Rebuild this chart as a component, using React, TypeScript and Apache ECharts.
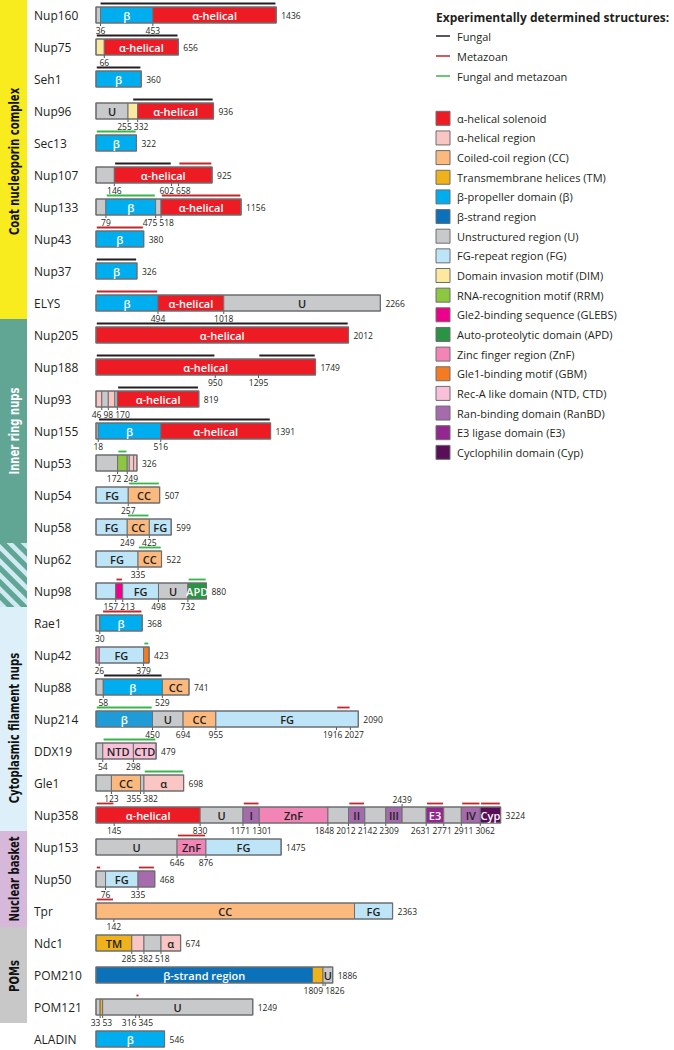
import React, { useEffect, useRef } from 'react';
import * as echarts from 'echarts';

// ---------------- DATA ----------------
const NAMES = ['Nup160','Nup75','Seh1','Nup96','Sec13','Nup107','Nup133','Nup43','Nup37','ELYS','Nup205','Nup188','Nup93','Nup155','Nup53','Nup54','Nup58','Nup62','Nup98','Rae1','Nup42','Nup88','Nup214','DDX19','Gle1','Nup358','Nup153','Nup50','Tpr','Ndc1','POM210','POM121','ALADIN'];
const LENGTHS = [1436,656,360,936,322,925,1156,380,326,2266,2012,1749,819,1391,326,507,599,522,880,368,423,741,2090,479,698,3224,1475,468,2363,674,1886,1249,546];

// [start, end, domain type, label]
const DOMAINS: [number, number, string, string?][][] = [
  [[0,36,'U'],[36,453,'BP','β'],[453,1436,'AS','α-helical']],
  [[0,66,'DIM'],[66,656,'AS','α-helical']],
  [[0,360,'BP','β']],
  [[0,255,'U','U'],[255,332,'DIM'],[332,936,'AS','α-helical']],
  [[0,322,'BP','β']],
  [[0,146,'U'],[146,925,'AS','α-helical']],
  [[0,79,'U'],[79,475,'BP','β'],[475,518,'U'],[518,1156,'AS','α-helical']],
  [[0,380,'BP','β']],
  [[0,326,'BP','β']],
  [[0,494,'BP','β'],[494,1018,'AS','α-helical'],[1018,2266,'U','U']],
  [[0,2012,'AS','α-helical']],
  [[0,1749,'AS','α-helical']],
  [[0,46,'AR'],[46,98,'U'],[98,150,'AR'],[150,170,'U'],[170,819,'AS','α-helical']],
  [[0,18,'U'],[18,516,'BP','β'],[516,1391,'AS','α-helical']],
  [[0,172,'U'],[172,249,'RRM'],[249,265,'U'],[265,300,'AR'],[300,326,'AR']],
  [[0,257,'FG','FG'],[257,507,'CC','CC']],
  [[0,249,'FG','FG'],[249,425,'CC','CC'],[425,599,'FG','FG']],
  [[0,335,'FG','FG'],[335,522,'CC','CC']],
  [[0,157,'FG'],[157,213,'GLEBS'],[213,498,'FG','FG'],[498,732,'U','U'],[732,880,'APD','APD']],
  [[0,30,'U'],[30,368,'BP','β']],
  [[0,26,'ZNF'],[26,379,'FG','FG'],[379,423,'GBM']],
  [[0,58,'U'],[58,529,'BP','β'],[529,741,'CC','CC']],
  [[0,450,'BP2','β'],[450,694,'U','U'],[694,955,'CC','CC'],[955,2090,'FG','FG']],
  [[0,54,'U'],[54,298,'RECA','NTD'],[298,479,'RECA','CTD']],
  [[0,123,'U'],[123,355,'CC','CC'],[355,382,'U'],[382,698,'AR','α']],
  [[0,830,'AS','α-helical'],[830,1171,'U','U'],[1171,1301,'RANBD','I'],[1301,1848,'ZNF','ZnF'],[1848,2012,'U'],[2012,2142,'RANBD','II'],[2142,2309,'U'],[2309,2439,'RANBD','III'],[2439,2631,'U'],[2631,2771,'E3','E3'],[2771,2911,'U'],[2911,3062,'RANBD','IV'],[3062,3224,'CYP','Cyp']],
  [[0,646,'U','U'],[646,876,'ZNF','ZnF'],[876,1475,'FG','FG']],
  [[0,76,'U'],[76,335,'FG','FG'],[335,468,'RANBD']],
  [[0,2060,'CC','CC'],[2060,2363,'FG','FG']],
  [[0,285,'TM','TM'],[285,382,'AR'],[382,518,'U'],[518,674,'AR','α']],
  [[0,1725,'BS','β-strand region'],[1725,1809,'TM'],[1809,1886,'U','U']],
  [[0,33,'U'],[33,53,'TM'],[53,1249,'U','U']],
  [[0,546,'BP','β']],
];

// residue numbers printed under the bars
const POSITIONS: number[][] = [
  [36,453],[66],[],[255,332],[],[146,602,658],[79,475,518],[],[],[494,1018],
  [],[950,1295],[46,98,170],[18,516],[172,249],[257],[249,425],[335],[157,213,498,732],
  [30],[26,379],[58,529],[450,694,955,1916,2027],[54,298],[123,355,382],
  [145,830,1171,1301,1848,2012,2142,2309,2631,2771,2911,3062],
  [646,876],[76,335],[142],[285,382,518],[1809,1826],[33,53,316,345],[],
];
// residue numbers printed above the bars
const POSITIONS_ABOVE: number[][] = NAMES.map((n) => (n === 'Nup358' ? [2439] : []));

// experimentally determined structures: F fungal, M metazoan, FM both
const STRUCTURES: [number, number, string][][] = [
  [[30,1436,'F']],
  [[0,656,'F']],
  [[0,360,'F']],
  [[290,936,'F']],
  [[0,322,'FM']],
  [[146,602,'F'],[658,925,'M']],
  [[79,475,'FM'],[518,1156,'M']],
  [[0,380,'M']],
  [[0,326,'F']],
  [[0,494,'M']],
  [[0,2012,'F']],
  [[0,950,'F'],[1295,1749,'F']],
  [[170,819,'F']],
  [[18,1391,'F']],
  [[172,249,'FM']],
  [[257,507,'FM']],
  [[249,425,'FM']],
  [[335,522,'FM']],
  [[157,213,'M'],[732,880,'FM']],
  [[50,368,'M']],
  [[379,423,'FM']],
  [[58,529,'F']],
  [[0,450,'FM'],[1916,2027,'M']],
  [[54,479,'FM']],
  [[382,698,'FM']],
  [[0,145,'M'],[1171,1301,'M'],[2012,2142,'M'],[2631,2771,'M'],[2911,3062,'M'],[3062,3224,'M']],
  [[646,876,'M']],
  [[0,40,'M'],[335,468,'M']],
  [[0,142,'M']],
  [],
  [],
  [[316,345,'M']],
  [],
];

const GROUP_LABELS = ['Coat nucleoporin complex','Inner ring nups','','Cytoplasmic filament nups','Nuclear basket','POMs'];
const GROUP_FIRST = [0,10,17,19,26,29];
const GROUP_LAST = [9,16,18,25,28,31];

const STRUCT_LEGEND: [string, string][] = [['F','Fungal'],['M','Metazoan'],['FM','Fungal and metazoan']];
const DOMAIN_LEGEND: [string, string][] = [
  ['AS','α-helical solenoid'],['AR','α-helical region'],['CC','Coiled-coil region (CC)'],['TM','Transmembrane helices (TM)'],
  ['BP','β-propeller domain (β)'],['BS','β-strand region'],['U','Unstructured region (U)'],['FG','FG-repeat region (FG)'],
  ['DIM','Domain invasion motif (DIM)'],['RRM','RNA-recognition motif (RRM)'],['GLEBS','Gle2-binding sequence (GLEBS)'],
  ['APD','Auto-proteolytic domain (APD)'],['ZNF','Zinc finger region (ZnF)'],['GBM','Gle1-binding motif (GBM)'],
  ['RECA','Rec-A like domain (NTD, CTD)'],['RANBD','Ran-binding domain (RanBD)'],['E3','E3 ligase domain (E3)'],['CYP','Cyclophilin domain (Cyp)'],
];
const LEGEND_TITLE = 'Experimentally determined structures:';

// ---------------- STYLE ----------------
const COLORS: Record<string, string> = {
  AS: '#ed1c24', AR: '#f9c6c4', CC: '#fcb97d', TM: '#efb21b', BP: '#00aeef', BP2: '#1f9cd8', BS: '#0b72ba',
  U: '#c8c9cb', FG: '#bde5f7', DIM: '#fde8a0', RRM: '#8dc63f', GLEBS: '#ec008c', APD: '#2a9444',
  ZNF: '#f285b6', GBM: '#f47b20', RECA: '#f8c1d9', RANBD: '#a66bad', E3: '#93278f', CYP: '#5a0e58',
};
const WHITE_TEXT = new Set(['AS','BP','BP2','BS','APD','E3','CYP']);
const STRUCT_COLORS: Record<string, string> = { F: '#231f20', M: '#c1272d', FM: '#39b54a' };
const GROUP_FILL = ['#f8ec1f','#61a594','hatch','#ddf0f9','#d6b8da','#c8c8c8'];
const GROUP_TEXT = ['#111','#ffffff','#111','#111','#111','#111'];
const GROUP_LABEL_SHIFT = [2, 0, 0, 9, 0, 1];
const HATCH_LIGHT = '#cfeaf3';
const BORDER = '#6d6e71';
const DARK = '#231f20';
const FONT = '"Open Sans", "Noto Sans", sans-serif';
const COND_FONT = '"DejaVu Sans Condensed", "Liberation Sans Narrow", "Roboto", sans-serif';
const BAR_H = 16;
const NUM_FS = 8.5;
const PX_PER_AA = 0.1255;
const X_MAX = 3500;
const GRID_LEFT = 96;

function numWidth(v: number) {
  return String(v).length * NUM_FS * 0.575;
}

function spread(xs: number[], ws: number[]) {
  const p = xs.slice();
  for (let it = 0; it < 80; it++) {
    let moved = false;
    for (let k = 0; k < p.length - 1; k++) {
      const need = (ws[k] + ws[k + 1]) / 2 + 2;
      const gap = p[k + 1] - p[k];
      if (gap < need - 0.01) {
        const d = (need - gap) / 2;
        p[k] -= d;
        p[k + 1] += d;
        moved = true;
      }
    }
    if (!moved) break;
  }
  return p;
}

function clipAxis(pts: number[][], axis: number, val: number, keepGreater: boolean) {
  const res: number[][] = [];
  for (let k = 0; k < pts.length; k++) {
    const a = pts[k];
    const b = pts[(k + 1) % pts.length];
    const ina = keepGreater ? a[axis] >= val : a[axis] <= val;
    const inb = keepGreater ? b[axis] >= val : b[axis] <= val;
    if (ina) res.push(a);
    if (ina !== inb) {
      const t = (val - a[axis]) / (b[axis] - a[axis]);
      res.push([a[0] + t * (b[0] - a[0]), a[1] + t * (b[1] - a[1])]);
    }
  }
  return res;
}
function clipRect(poly: number[][], x0: number, y0: number, x1: number, y1: number) {
  let out = poly;
  out = clipAxis(out, 0, x0, true);
  if (out.length) out = clipAxis(out, 0, x1, false);
  if (out.length) out = clipAxis(out, 1, y0, true);
  if (out.length) out = clipAxis(out, 1, y1, false);
  return out;
}

function renderProtein(params: any, api: any) {
  const i = api.value(1);
  const c0 = api.coord([0, i]);
  const y = c0[1];
  const sx = (v: number) => api.coord([v, i])[0];
  const top = y - BAR_H / 2;
  const bot = y + BAR_H / 2;
  const children: any[] = [];
  // structure lines
  for (const [s, e, kind] of STRUCTURES[i]) {
    children.push({
      type: 'line',
      shape: { x1: sx(s) + 0.8, y1: top - 3.5, x2: sx(e) - 0.8, y2: top - 3.5 },
      style: { stroke: STRUCT_COLORS[kind], lineWidth: 1.8 },
    });
  }
  // ticks under bar
  for (const p of POSITIONS[i]) {
    children.push({ type: 'line', shape: { x1: sx(p), y1: bot, x2: sx(p), y2: bot + 3 }, style: { stroke: '#555', lineWidth: 1 } });
  }
  for (const p of POSITIONS_ABOVE[i]) {
    children.push({ type: 'line', shape: { x1: sx(p), y1: top - 3, x2: sx(p), y2: top }, style: { stroke: '#555', lineWidth: 1 } });
  }
  // segments
  for (const [s, e, t] of DOMAINS[i]) {
    children.push({
      type: 'rect',
      shape: { x: sx(s), y: top, width: sx(e) - sx(s), height: BAR_H },
      style: { fill: COLORS[t], stroke: BORDER, lineWidth: 1 },
    });
  }
  // outline
  children.push({
    type: 'rect',
    shape: { x: sx(0), y: top, width: sx(LENGTHS[i]) - sx(0), height: BAR_H },
    style: { fill: 'none', stroke: BORDER, lineWidth: 1.2 },
  });
  // segment labels
  for (const [s, e, t, label] of DOMAINS[i]) {
    if (!label) continue;
    children.push({
      type: 'text',
      x: (sx(s) + sx(e)) / 2,
      y: y + 0.5,
      style: {
        text: label, fill: WHITE_TEXT.has(t) ? '#ffffff' : DARK, font: `600 11px ${FONT}`,
        textAlign: 'center', textVerticalAlign: 'middle',
      },
    });
  }
  // length label
  children.push({
    type: 'text', x: sx(LENGTHS[i]) + 5, y: y + 0.5,
    style: { text: String(LENGTHS[i]), fill: DARK, font: `${NUM_FS}px ${FONT}`, textAlign: 'left', textVerticalAlign: 'middle' },
  });
  // residue numbers
  const pos = POSITIONS[i];
  if (pos.length) {
    const xs = spread(pos.map(sx), pos.map(numWidth));
    pos.forEach((p, k) => {
      children.push({
        type: 'text', x: xs[k], y: bot + 7,
        style: { text: String(p), fill: DARK, font: `${NUM_FS}px ${FONT}`, textAlign: 'center', textVerticalAlign: 'middle' },
      });
    });
  }
  for (const p of POSITIONS_ABOVE[i]) {
    children.push({
      type: 'text', x: sx(p), y: top - 8,
      style: { text: String(p), fill: DARK, font: `${NUM_FS}px ${FONT}`, textAlign: 'center', textVerticalAlign: 'middle' },
    });
  }
  return { type: 'group', children };
}

function renderGroup(params: any, api: any) {
  const g = params.dataIndex;
  const a = api.coord([0, GROUP_FIRST[g]])[1];
  const b = api.coord([0, GROUP_LAST[g]])[1];
  const step = api.coord([0, 1])[1] - api.coord([0, 0])[1];
  const y0 = Math.max(0, a - step / 2);
  const y1 = b + step / 2;
  const x0 = 0;
  const x1 = 27;
  const children: any[] = [];
  if (GROUP_FILL[g] === 'hatch') {
    children.push({ type: 'rect', shape: { x: x0, y: y0, width: x1 - x0, height: y1 - y0 }, style: { fill: '#61a594' } });
    const period = 14;
    const w = 6.5;
    for (let c = y0 - x1 - period; c < y1 - x0 + period; c += period) {
      const XA = x0 - 50;
      const XB = x1 + 50;
      const poly = [[XA, XA + c], [XB, XB + c], [XB, XB + c + w], [XA, XA + c + w]];
      const cl = clipRect(poly, x0, y0, x1, y1);
      if (cl.length >= 3) children.push({ type: 'polygon', shape: { points: cl }, style: { fill: HATCH_LIGHT } });
    }
  } else {
    children.push({ type: 'rect', shape: { x: x0, y: y0, width: x1 - x0, height: y1 - y0 }, style: { fill: GROUP_FILL[g] } });
  }
  if (GROUP_LABELS[g]) {
    children.push({
      type: 'text', x: (x0 + x1) / 2 + 0.5, y: (y0 + y1) / 2 + GROUP_LABEL_SHIFT[g], rotation: Math.PI / 2,
      scaleX: 0.86, scaleY: 1.05,
      style: { text: GROUP_LABELS[g], fill: GROUP_TEXT[g], font: `bold 13px ${COND_FONT}`, textAlign: 'center', textVerticalAlign: 'middle' },
    });
  }
  return { type: 'group', children };
}

function buildLegend() {
  const els: any[] = [];
  const lx = 436;
  els.push({ type: 'text', x: lx, y: 17, style: { text: LEGEND_TITLE, font: `bold 12px ${FONT}`, fill: DARK, textVerticalAlign: 'middle' } });
  STRUCT_LEGEND.forEach(([k, label], j) => {
    const yy = 36 + j * 20;
    els.push({ type: 'line', shape: { x1: lx, y1: yy, x2: lx + 14, y2: yy }, style: { stroke: STRUCT_COLORS[k], lineWidth: 1.5 } });
    els.push({ type: 'text', x: lx + 21, y: yy, style: { text: label, font: `11px ${FONT}`, fill: DARK, textVerticalAlign: 'middle' } });
  });
  DOMAIN_LEGEND.forEach(([k, label], j) => {
    const yy = 118.3 + j * 19.65;
    els.push({ type: 'rect', shape: { x: lx, y: yy - 7, width: 14, height: 14 }, style: { fill: COLORS[k], stroke: BORDER, lineWidth: 1 } });
    els.push({ type: 'text', x: lx + 21, y: yy, style: { text: label, font: `11px ${FONT}`, fill: DARK, textVerticalAlign: 'middle' } });
  });
  return els;
}

export default function App() {
  const ref = useRef<HTMLDivElement>(null);
  useEffect(() => {
    const chart = echarts.init(ref.current!, null, { renderer: 'svg' });
    chart.setOption({
      animation: false,
      grid: { left: GRID_LEFT, top: 15, bottom: 11, width: X_MAX * PX_PER_AA },
      xAxis: { type: 'value', min: 0, max: X_MAX, show: false },
      yAxis: {
        type: 'category', data: NAMES, inverse: true, boundaryGap: false,
        axisLine: { show: false }, axisTick: { show: false }, splitLine: { show: false },
        axisLabel: { interval: 0, align: 'left', margin: 62, fontSize: 12, color: DARK, fontFamily: FONT },
      },
      series: [
        {
          type: 'custom', coordinateSystem: 'cartesian2d', clip: false,
          data: GROUP_FIRST.map((f) => [0, f]),
          encode: { x: 0, y: 1 },
          renderItem: renderGroup,
          z: 1,
        },
        {
          type: 'custom', coordinateSystem: 'cartesian2d', clip: false,
          data: NAMES.map((_, i) => [LENGTHS[i], i]),
          encode: { x: 0, y: 1 },
          renderItem: renderProtein,
          z: 2,
        },
      ],
      graphic: buildLegend(),
    });
    return () => chart.dispose();
  }, []);
  return <div ref={ref} style={{ position: 'absolute', left: 0, top: 0, width: 674, height: 1050 }} />;
}
